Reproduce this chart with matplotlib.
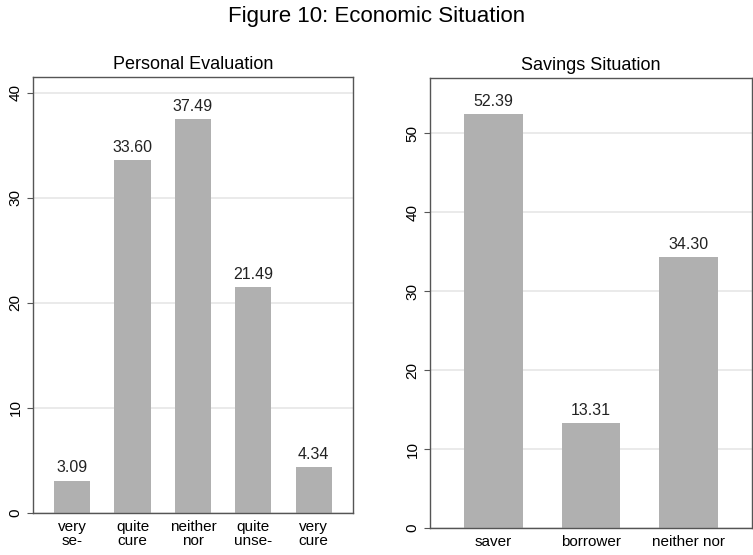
import matplotlib.pyplot as plt
import numpy as np

plt.rcParams['font.family'] = ['Liberation Sans', 'DejaVu Sans']

# data
personal_labels = ["very\nse-", "quite\ncure", "neither\nnor", "quite\nunse-", "very\ncure"]
personal_values = [3.09, 33.60, 37.49, 21.49, 4.34]
savings_labels = ["saver", "borrower", "neither nor"]
savings_values = [52.39, 13.31, 34.30]

bar_color = "#b0b0b0"
frame_color = "#555555"

fig = plt.figure(figsize=(7.53, 5.55), dpi=100)
fig.suptitle("Figure 10: Economic Situation", fontsize=16, y=0.99)

ax1 = fig.add_axes([0.0438, 0.0757, 0.425, 0.7856])
ax2 = fig.add_axes([0.571, 0.0486, 0.4276, 0.811])


def draw(ax, labels, values, title, ylim, yticks):
    x = np.arange(len(values))
    ax.set_axisbelow(True)
    ax.bar(x, values, width=0.6, color=bar_color)
    for xi, v in zip(x, values):
        ax.text(xi, v + ylim * 0.012, "%.2f" % v, ha="center", va="bottom", fontsize=11.5, color="#222222")
    ax.set_xlim(-0.65, len(values) - 0.35)
    ax.set_ylim(0, ylim)
    ax.set_yticks(yticks)
    ax.set_xticks(x)
    ax.set_xticklabels(labels, fontsize=11, linespacing=1.05)
    ax.tick_params(axis="x", length=0, pad=5)
    ax.tick_params(axis="y", direction="out", length=4, color=frame_color, labelsize=11)
    for lab in ax.get_yticklabels():
        lab.set_rotation(90)
        lab.set_va("center")
    ax.yaxis.grid(True, color="#e6e6e6", linewidth=1.2)
    for s in ax.spines.values():
        s.set_color(frame_color)
        s.set_linewidth(1.0)
    ax.set_title(title, fontsize=13, pad=6)


draw(ax1, personal_labels, personal_values, "Personal Evaluation", 41.5, [0, 10, 20, 30, 40])
draw(ax2, savings_labels, savings_values, "Savings Situation", 57, [0, 10, 20, 30, 40, 50])

fig.savefig("out.png", dpi=100)
